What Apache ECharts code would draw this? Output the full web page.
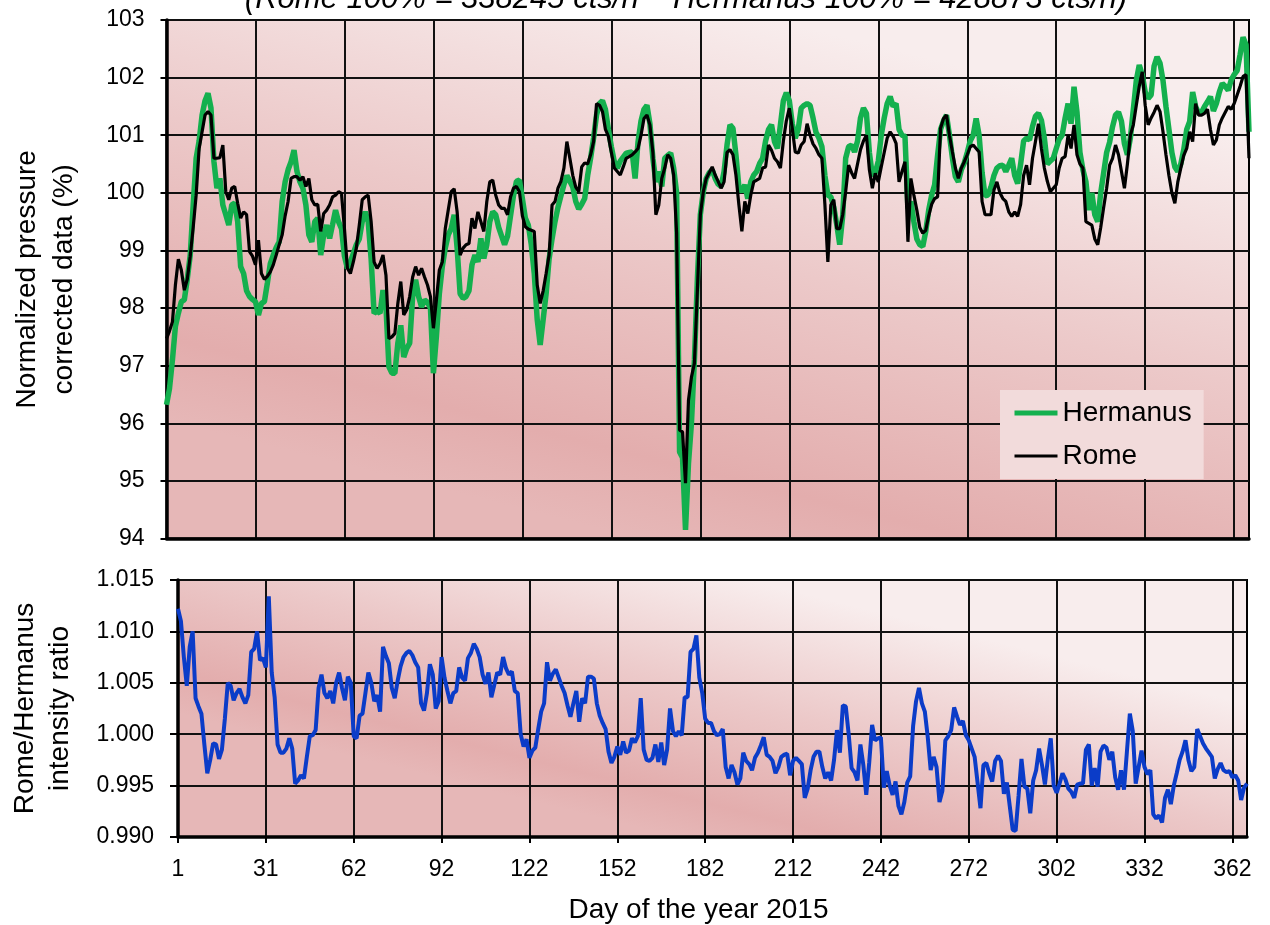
<!DOCTYPE html>
<html>
<head>
<meta charset="utf-8">
<title>Rome / Hermanus 2015</title>
<script src="https://cdn.jsdelivr.net/npm/echarts@6/dist/echarts.min.js"></script>
<style>
  html, body { margin: 0; padding: 0; background: #fff; }
  #chart { width: 1270px; height: 925px; }
</style>
</head>
<body>
<div id="chart"></div>
<script>
// tick labels shown under the lower panel, one every 30 points
const xTickLabels = ['1', '31', '62', '92', '122', '152', '182', '212', '242', '272', '302', '332', '362'];

// normalized pressure corrected data (%), one value per day
const hermanus = [
  96.32, 96.60, 97.10, 97.68, 97.91, 98.11, 98.14, 98.50, 98.92, 99.79,
  100.60, 100.90, 101.35, 101.60, 101.73, 101.47, 100.54, 100.08, 100.25, 99.79,
  99.62, 99.44, 99.79, 99.82, 99.50, 98.72, 98.60, 98.30, 98.20, 98.15,
  98.11, 97.88, 98.08, 98.11, 98.43, 98.77, 98.92, 99.05, 99.15, 99.85,
  100.19, 100.40, 100.54, 100.74, 100.37, 100.19, 100.08, 99.79, 99.27, 99.15,
  99.50, 99.56, 98.92, 99.27, 99.44, 99.21, 99.45, 99.70, 99.50, 99.38,
  98.90, 98.69, 98.80, 98.95, 99.10, 99.20, 99.50, 99.67, 99.50, 98.85,
  97.91, 97.95, 97.91, 98.31, 98.02, 96.98, 96.87, 96.87, 97.39, 97.70,
  97.15, 97.30, 97.39, 98.20, 98.49, 98.20, 98.02, 98.14, 98.10, 98.00,
  96.87, 97.50, 98.25, 98.72, 99.04, 99.27, 99.38, 99.62, 99.04, 98.25,
  98.17, 98.20, 98.30, 98.75, 98.92, 98.80, 99.21, 98.86, 99.10, 99.50,
  99.67, 99.62, 99.40, 99.25, 99.10, 99.25, 99.60, 99.95, 100.20, 100.22,
  99.90, 99.56, 99.44, 99.10, 98.60, 97.80, 97.36, 97.80, 98.25, 98.85,
  99.20, 99.50, 99.75, 99.95, 100.14, 100.30, 100.20, 100.10, 99.85, 99.72,
  99.80, 99.90, 100.30, 100.60, 100.95, 101.35, 101.55, 101.60, 101.45, 101.10,
  100.80, 100.54, 100.43, 100.55, 100.62, 100.69, 100.70, 100.71, 100.25, 100.89,
  101.25, 101.45, 101.52, 101.20, 100.60, 100.19, 100.37, 100.11, 100.60, 100.65,
  100.69, 100.43, 100.00, 95.50, 95.40, 94.15, 95.30, 96.00, 97.10, 98.50,
  99.62, 100.02, 100.25, 100.35, 100.40, 100.25, 100.15, 100.11, 100.37, 100.83,
  101.18, 101.12, 100.66, 100.10, 100.02, 100.14, 99.90, 100.19, 100.31, 100.37,
  100.51, 100.60, 100.90, 101.10, 101.18, 100.89, 100.77, 101.18, 101.60, 101.74,
  101.60, 101.20, 100.95, 101.10, 101.47, 101.52, 101.55, 101.52, 101.30, 101.05,
  100.95, 100.80, 100.30, 99.96, 99.93, 99.75, 99.45, 99.10, 99.60, 100.60,
  100.80, 100.83, 100.71, 100.90, 101.30, 101.47, 101.38, 100.70, 100.30, 100.35,
  100.55, 101.00, 101.30, 101.55, 101.67, 101.50, 101.55, 101.10, 101.00, 100.98,
  99.73, 99.85, 99.50, 99.20, 99.10, 99.07, 99.33, 99.70, 99.96, 100.14,
  100.65, 101.10, 101.25, 101.35, 101.00, 100.60, 100.28, 100.19, 100.40, 100.52,
  100.70, 100.90, 101.00, 101.29, 101.00, 100.35, 99.95, 99.96, 100.10, 100.30,
  100.43, 100.47, 100.48, 100.37, 100.48, 100.60, 100.30, 100.16, 100.50, 100.90,
  100.95, 100.92, 101.15, 101.33, 101.38, 101.26, 100.95, 100.50, 100.55, 100.60,
  100.77, 100.93, 101.00, 101.30, 101.55, 101.20, 101.84, 101.40, 100.70, 100.40,
  100.20, 99.70, 100.00, 99.62, 99.50, 100.00, 100.35, 100.70, 100.88, 101.15,
  101.35, 101.40, 101.24, 100.85, 100.66, 100.95, 101.45, 101.95, 102.22, 102.05,
  101.75, 101.64, 101.70, 102.20, 102.36, 102.25, 101.95, 101.50, 101.10, 100.70,
  100.45, 100.37, 100.50, 100.75, 101.10, 101.24, 101.75, 101.50, 101.38, 101.40,
  101.50, 101.58, 101.67, 101.42, 101.55, 101.75, 101.90, 101.85, 101.78, 101.96,
  102.05, 102.12, 102.40, 102.70, 102.57, 101.06
];

const rome = [
  97.47, 97.60, 97.76, 98.40, 98.85, 98.66, 98.31, 98.50, 98.90, 99.40,
  99.96, 100.77, 101.06, 101.35, 101.41, 101.35, 100.60, 100.60, 100.61, 100.83,
  100.02, 99.88, 100.08, 100.11, 99.82, 99.56, 99.67, 99.62, 98.98, 98.90,
  98.75, 99.18, 98.60, 98.50, 98.55, 98.63, 98.75, 98.92, 99.10, 99.27,
  99.60, 99.85, 100.25, 100.28, 100.28, 100.22, 100.28, 100.11, 100.25, 99.88,
  99.79, 99.80, 99.33, 99.64, 99.70, 99.79, 99.93, 99.96, 100.02, 99.99,
  99.38, 98.69, 98.60, 98.80, 99.04, 99.44, 99.88, 99.93, 99.96, 99.50,
  98.80, 98.69, 98.77, 98.92, 98.57, 97.47, 97.50, 97.56, 98.08, 98.46,
  97.88, 97.97, 98.20, 98.54, 98.72, 98.57, 98.69, 98.54, 98.40, 98.20,
  97.65, 98.14, 98.66, 98.80, 99.38, 99.70, 100.02, 100.07, 99.67, 98.92,
  99.04, 99.10, 99.12, 99.56, 99.38, 99.67, 99.50, 99.33, 99.85, 100.19,
  100.22, 99.96, 99.79, 99.73, 99.73, 99.62, 99.93, 100.08, 100.11, 100.02,
  99.60, 99.41, 99.37, 99.35, 99.33, 98.40, 98.08, 98.30, 98.60, 98.92,
  99.79, 99.85, 100.08, 100.20, 100.43, 100.89, 100.60, 100.30, 100.10, 100.02,
  100.45, 100.52, 100.50, 100.66, 100.89, 101.55, 101.52, 101.41, 101.10, 100.98,
  100.70, 100.43, 100.37, 100.31, 100.45, 100.60, 100.63, 100.66, 100.71, 100.77,
  101.00, 101.29, 101.35, 101.18, 100.70, 99.62, 99.79, 100.25, 100.43, 100.66,
  100.60, 100.31, 99.30, 95.88, 95.85, 94.96, 96.40, 96.80, 97.04, 98.30,
  99.62, 100.02, 100.25, 100.35, 100.45, 100.31, 100.20, 100.08, 100.19, 100.70,
  100.75, 100.66, 100.31, 99.79, 99.33, 99.85, 99.64, 99.96, 100.19, 100.22,
  100.25, 100.43, 100.45, 100.83, 100.74, 100.60, 100.54, 100.43, 100.90, 101.25,
  101.47, 101.12, 100.71, 100.69, 100.83, 100.89, 101.20, 101.00, 100.85, 100.77,
  100.66, 100.60, 99.80, 98.80, 99.79, 99.88, 99.38, 99.38, 99.62, 100.02,
  100.48, 100.35, 100.25, 100.50, 100.75, 100.90, 101.00, 100.40, 100.08, 100.34,
  100.19, 100.45, 100.70, 100.95, 101.06, 100.98, 100.86, 100.19, 100.37, 100.54,
  99.15, 100.25, 99.96, 99.70, 99.40, 99.30, 99.35, 99.60, 99.80, 99.90,
  99.93, 101.12, 101.29, 101.35, 101.00, 100.71, 100.43, 100.25, 100.43, 100.54,
  100.66, 100.80, 100.83, 100.77, 100.71, 99.85, 99.62, 99.62, 99.62, 100.05,
  100.19, 100.00, 99.90, 99.85, 99.67, 99.59, 99.67, 99.59, 99.80, 100.30,
  100.48, 100.14, 100.60, 100.89, 101.20, 100.77, 100.43, 100.20, 100.02, 100.08,
  100.14, 100.43, 100.60, 100.63, 101.00, 100.77, 101.18, 100.66, 100.50, 100.43,
  99.50, 99.47, 99.44, 99.20, 99.10, 99.40, 99.75, 100.08, 100.48, 100.60,
  100.83, 100.66, 100.37, 100.08, 100.50, 101.00, 101.18, 101.52, 101.85, 102.10,
  101.52, 101.18, 101.30, 101.40, 101.52, 101.41, 101.06, 100.66, 100.30, 100.00,
  99.82, 100.19, 100.43, 100.65, 100.77, 101.06, 100.89, 101.55, 101.35, 101.35,
  101.38, 101.45, 101.10, 100.83, 100.92, 101.18, 101.30, 101.40, 101.50, 101.45,
  101.55, 101.70, 101.85, 102.02, 102.05, 100.60
];

// Rome/Hermanus intensity ratio
const ratio = [
  1.0122, 1.0110, 1.0075, 1.0047, 1.0085, 1.0100, 1.0035, 1.0027, 1.0020, 0.9990,
  0.9962, 0.9975, 0.9991, 0.9990, 0.9976, 0.9985, 1.0015, 1.0050, 1.0047, 1.0033,
  1.0040, 1.0044, 1.0036, 1.0030, 1.0038, 1.0080, 1.0083, 1.0100, 1.0072, 1.0074,
  1.0065, 1.0134, 1.0060, 1.0036, 0.9990, 0.9982, 0.9982, 0.9986, 0.9996, 0.9986,
  0.9952, 0.9955, 0.9960, 0.9957, 0.9978, 0.9998, 0.9999, 1.0004, 1.0045, 1.0058,
  1.0040, 1.0035, 1.0042, 1.0030, 1.0050, 1.0060, 1.0045, 1.0033, 1.0056, 1.0050,
  0.9998, 0.9996, 1.0018, 1.0020, 1.0040, 1.0060, 1.0050, 1.0032, 1.0038, 1.0022,
  1.0085, 1.0076, 1.0069, 1.0045, 1.0035, 1.0052, 1.0066, 1.0075, 1.0079, 1.0081,
  1.0077, 1.0070, 1.0065, 1.0030, 1.0023, 1.0040, 1.0068, 1.0058, 1.0025, 1.0032,
  1.0075, 1.0055, 1.0042, 1.0030, 1.0040, 1.0042, 1.0065, 1.0055, 1.0052, 1.0074,
  1.0079, 1.0088, 1.0083, 1.0075, 1.0058, 1.0049, 1.0060, 1.0036, 1.0048, 1.0060,
  1.0058, 1.0075, 1.0064, 1.0058, 1.0061, 1.0042, 1.0040, 1.0000, 0.9988, 0.9995,
  0.9977, 0.9984, 0.9987, 1.0005, 1.0022, 1.0030, 1.0070, 1.0052, 1.0059, 1.0063,
  1.0055, 1.0047, 1.0040, 1.0028, 1.0017, 1.0030, 1.0042, 1.0012, 1.0035, 1.0030,
  1.0056, 1.0056, 1.0054, 1.0030, 1.0018, 1.0011, 1.0005, 0.9983, 0.9972, 0.9978,
  0.9988, 0.9980, 0.9993, 0.9982, 0.9984, 0.9996, 0.9992, 0.9998, 1.0035, 0.9985,
  0.9975, 0.9974, 0.9977, 0.9990, 0.9973, 0.9992, 0.9970, 0.9985, 1.0025, 1.0003,
  0.9998, 1.0003, 0.9999, 1.0036, 1.0036, 1.0080, 1.0083, 1.0096, 1.0055, 1.0040,
  1.0015, 1.0011, 1.0011, 1.0003, 0.9999, 1.0000, 1.0005, 0.9968, 0.9957, 0.9970,
  0.9963, 0.9951, 0.9957, 0.9982, 0.9974, 0.9971, 0.9965, 0.9977, 0.9982, 0.9989,
  0.9997, 0.9980, 0.9978, 0.9974, 0.9962, 0.9968, 0.9978, 0.9980, 0.9981, 0.9960,
  0.9974, 0.9977, 0.9974, 0.9971, 0.9938, 0.9947, 0.9965, 0.9978, 0.9983, 0.9983,
  0.9968, 0.9957, 0.9963, 0.9955, 0.9975, 1.0004, 0.9982, 1.0028, 1.0027, 1.0000,
  0.9967, 0.9963, 0.9955, 0.9990, 0.9970, 0.9941, 0.9972, 1.0009, 0.9994, 0.9996,
  0.9997, 0.9948, 0.9964, 0.9950, 0.9941, 0.9954, 0.9930, 0.9922, 0.9934, 0.9953,
  0.9959, 1.0008, 1.0032, 1.0045, 1.0030, 1.0022, 0.9997, 0.9965, 0.9978, 0.9968,
  0.9934, 0.9945, 0.9994, 0.9998, 1.0004, 1.0026, 1.0017, 1.0009, 1.0013, 0.9999,
  0.9994, 0.9986, 0.9978, 0.9953, 0.9928, 0.9970, 0.9972, 0.9962, 0.9954, 0.9974,
  0.9979, 0.9974, 0.9942, 0.9953, 0.9930, 0.9907, 0.9906, 0.9940, 0.9976, 0.9949,
  0.9947, 0.9923, 0.9955, 0.9965, 0.9986, 0.9970, 0.9951, 0.9976, 0.9996, 0.9950,
  0.9943, 0.9952, 0.9962, 0.9956, 0.9947, 0.9944, 0.9938, 0.9951, 0.9952, 0.9952,
  0.9985, 0.9990, 0.9950, 0.9967, 0.9949, 0.9983, 0.9989, 0.9987, 0.9975, 0.9983,
  0.9958, 0.9946, 0.9965, 0.9946, 0.9983, 1.0020, 1.0003, 0.9952, 0.9968, 0.9984,
  0.9968, 0.9961, 0.9965, 0.9922, 0.9918, 0.9921, 0.9914, 0.9938, 0.9946, 0.9932,
  0.9950, 0.9962, 0.9975, 0.9983, 0.9994, 0.9975, 0.9964, 0.9968, 1.0005, 0.9998,
  0.9991, 0.9986, 0.9982, 0.9978, 0.9957, 0.9966, 0.9972, 0.9965, 0.9963, 0.9964,
  0.9958, 0.9960, 0.9955, 0.9936, 0.9948, 0.9952
];

const FONT = '"Liberation Sans", Arial, sans-serif';
const points = hermanus.map((v, i) => i);
const everyThirty = (index) => index % 30 === 0;

// light at the top, darkest near the bottom, a little lighter in the bottom corner
const makeFill = (dx) => ({
  type: 'linear',
  x: 0.5 + dx, y: 0, x2: 0.5 - dx, y2: 1,
  colorStops: [
    { offset: 0, color: '#f8eded' },
    { offset: 0.45, color: '#ecc9c9' },
    { offset: 0.85, color: '#e3adad' },
    { offset: 1, color: '#e6b7b7' }
  ]
});

const gridLine = { show: true, interval: everyThirty, lineStyle: { color: '#111', width: 2 } };

const chart = echarts.init(document.getElementById('chart'));
chart.setOption({
  animation: false,
  textStyle: { fontFamily: FONT, color: '#000' },
  graphic: [{
    type: 'text',
    x: 686,
    y: -1,
    style: {
      text: '(Rome 100% = 338245 cts/h    Hermanus 100% = 428873 cts/h)',
      fontFamily: FONT,
      fontSize: 31,
      fontStyle: 'italic',
      fill: '#000',
      align: 'center',
      verticalAlign: 'middle',
      textAlign: 'center',
      textVerticalAlign: 'middle'
    }
  }],
  legend: {
    data: [
      { name: 'Hermanus', lineStyle: { width: 5 } },
      { name: 'Rome', lineStyle: { width: 3 } }
    ],
    orient: 'vertical',
    left: 1000,
    top: 390,
    padding: [9, 12, 9, 12],
    itemGap: 15,
    itemWidth: 43,
    itemHeight: 14,
    itemStyle: { opacity: 0 },
    backgroundColor: '#f2dbdb',
    textStyle: { fontSize: 28, color: '#000', fontFamily: FONT, lineHeight: 26 }
  },
  grid: [
    {
      left: 166.5, right: 21, top: 20, height: 518.5,
      show: true, backgroundColor: makeFill(0.06), borderColor: '#000', borderWidth: 2
    },
    {
      left: 171, right: 23, top: 580, height: 258.3,
      show: true, backgroundColor: makeFill(0.03), borderColor: '#000', borderWidth: 2
    }
  ],
  xAxis: [
    {
      type: 'category',
      gridIndex: 0,
      data: points,
      boundaryGap: false,
      axisLine: { lineStyle: { color: '#000', width: 3.5 } },
      axisTick: { show: false },
      axisLabel: { show: false },
      splitLine: gridLine
    },
    {
      type: 'category',
      gridIndex: 1,
      data: points,
      boundaryGap: false,
      name: 'Day of the year 2015',
      nameLocation: 'middle',
      nameGap: 59,
      nameTextStyle: { fontSize: 28, color: '#000', fontFamily: FONT, padding: [0, 28, 0, 0] },
      axisLine: { lineStyle: { color: '#000', width: 3.5 } },
      axisTick: { show: true, interval: everyThirty, length: 6, lineStyle: { color: '#000', width: 2 } },
      axisLabel: {
        interval: everyThirty,
        formatter: (value, index) => xTickLabels[index / 30],
        fontSize: 23,
        color: '#000',
        margin: 21
      },
      splitLine: gridLine
    }
  ],
  yAxis: [
    {
      type: 'value',
      gridIndex: 0,
      min: 94,
      max: 103,
      interval: 1,
      name: 'Normalized pressure\ncorrected data (%)',
      nameLocation: 'middle',
      nameRotate: 90,
      nameGap: 84,
      nameTextStyle: { fontSize: 28, color: '#000', fontFamily: FONT, lineHeight: 37 },
      axisLine: { show: true, lineStyle: { color: '#000', width: 3.5 } },
      axisTick: { show: true, length: 6, lineStyle: { color: '#000', width: 2 } },
      axisLabel: { fontSize: 23, color: '#000', margin: 22 },
      splitLine: { show: true, lineStyle: { color: '#111', width: 2 } }
    },
    {
      type: 'value',
      gridIndex: 1,
      min: 0.99,
      max: 1.015,
      interval: 0.005,
      name: 'Rome/Hermanus\nintensity ratio',
      nameLocation: 'middle',
      nameRotate: 90,
      nameGap: 100,
      nameTextStyle: { fontSize: 28, color: '#000', fontFamily: FONT, lineHeight: 35 },
      axisLine: { show: true, lineStyle: { color: '#000', width: 3.5 } },
      axisTick: { show: true, length: 8, lineStyle: { color: '#000', width: 2 } },
      axisLabel: { fontSize: 23, color: '#000', margin: 24, formatter: (v) => v.toFixed(3) },
      splitLine: { show: true, lineStyle: { color: '#111', width: 2 } }
    }
  ],
  series: [
    {
      name: 'Hermanus',
      type: 'line',
      xAxisIndex: 0,
      yAxisIndex: 0,
      data: hermanus,
      symbol: 'none',
      lineStyle: { color: '#14b04e', width: 5.5 },
      itemStyle: { color: '#14b04e' },
      z: 2
    },
    {
      name: 'Rome',
      type: 'line',
      xAxisIndex: 0,
      yAxisIndex: 0,
      data: rome,
      symbol: 'none',
      lineStyle: { color: '#000', width: 3.2 },
      itemStyle: { color: '#000' },
      z: 3
    },
    {
      name: 'Rome/Hermanus',
      type: 'line',
      xAxisIndex: 1,
      yAxisIndex: 1,
      data: ratio,
      symbol: 'none',
      lineStyle: { color: '#0b3cc8', width: 4 },
      itemStyle: { color: '#0b3cc8' },
      z: 3
    }
  ]
});
</script>
</body>
</html>
